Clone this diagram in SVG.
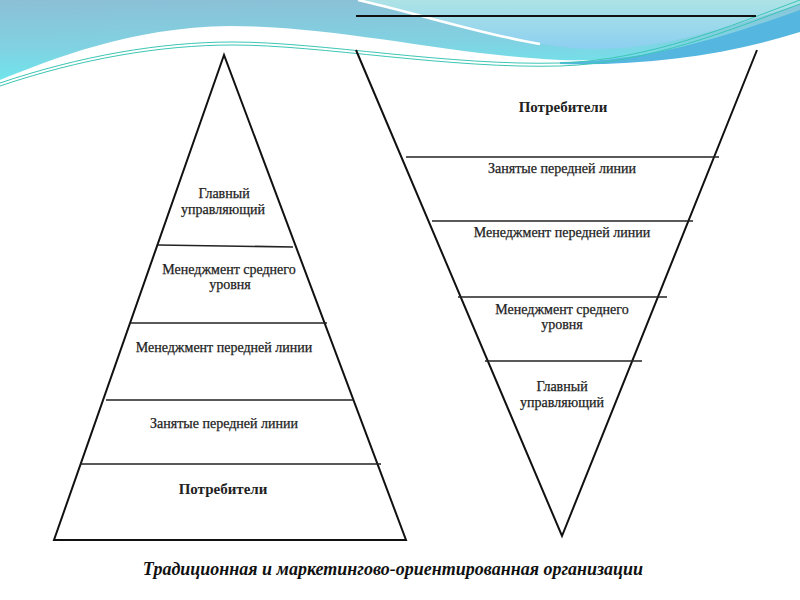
<svg xmlns="http://www.w3.org/2000/svg" width="800" height="600" viewBox="0 0 800 600">
<defs>
<linearGradient id="gMain" x1="0" y1="0" x2="0.15" y2="1">
<stop offset="0" stop-color="#8cbfd6"/>
<stop offset="0.6" stop-color="#80d2e2"/>
<stop offset="1" stop-color="#6ee6ec"/>
</linearGradient>
<linearGradient id="gLight" x1="0" y1="0" x2="0" y2="1">
<stop offset="0" stop-color="#ade3e6"/>
<stop offset="1" stop-color="#8ccff0"/>
</linearGradient>
<style>
.edge{fill:none;stroke:#111;stroke-width:2;stroke-linejoin:miter}
.div{fill:none;stroke:#222;stroke-width:1.6}
.lbl{font-family:"Liberation Serif","Times New Roman",serif;font-size:14px;fill:#222;stroke:#222;stroke-width:0.25;text-anchor:middle}
.big{font-family:"Liberation Serif","Times New Roman",serif;font-size:15px;font-weight:bold;fill:#222;text-anchor:middle}
.cap{font-family:"Liberation Serif","Times New Roman",serif;font-size:18px;font-weight:bold;font-style:italic;fill:#111;text-anchor:middle}
.teal{fill:none;stroke:#3cc6b4;stroke-width:1}
</style>
</defs>
<rect width="800" height="600" fill="#ffffff"/>
<g id="background">
<path d="M0,0 H800 V30 C720,50 640,62 560,60 C450,55 340,26 230,26 C130,27 50,60 0,80 Z" fill="url(#gMain)"/>
<path d="M362,0 C420,14 500,40 570,48 C650,54 720,30 800,4 V0 Z" fill="url(#gLight)"/>
<path d="M358,0 C420,14 480,34 540,44" fill="none" stroke="#ffffff" stroke-width="2.5"/>
<path d="M560,62 C650,62 730,35 800,10 V32 C730,54 650,66 560,64 Z" fill="#55b6e0"/>
<path class="teal" d="M0,83 C80,56 160,42 233,42 C320,42 450,66 560,63 C650,60 730,26 800,0"/>
<path class="teal" d="M0,86 C80,59 160,45 233,45 C320,45 450,69 560,66 C650,63 730,30 800,4" stroke="#7fdccf"/>
</g>
<g id="connectors">
<path class="edge" d="M224,55 L54,540 L406,540 Z"/>
<line class="div" x1="158" y1="245" x2="293" y2="247"/>
<line class="div" x1="131" y1="323" x2="327" y2="323"/>
<line class="div" x1="106" y1="400" x2="354" y2="400"/>
<line class="div" x1="80" y1="464" x2="381" y2="464"/>
<line x1="356" y1="16" x2="756" y2="16" stroke="#111" stroke-width="2.2"/>
<path class="edge" d="M356,50 L562,536 L757,50"/>
<line class="div" x1="406" y1="157" x2="719" y2="157"/>
<line class="div" x1="432" y1="221" x2="693" y2="221"/>
<line class="div" x1="458" y1="297" x2="667" y2="297"/>
<line class="div" x1="485" y1="361" x2="642" y2="361"/>
</g>
<g id="left-1"><text class="lbl" x="224" y="198">Главный</text><text class="lbl" x="223" y="214">управляющий</text></g>
<g id="left-2"><text class="lbl" x="229" y="274">Менеджмент среднего</text><text class="lbl" x="230" y="289">уровня</text></g>
<g id="left-3"><text class="lbl" x="224" y="352">Менеджмент передней линии</text></g>
<g id="left-4"><text class="lbl" x="224" y="428">Занятые передней линии</text></g>
<g id="left-5"><text class="big" x="223" y="494">Потребители</text></g>
<g id="right-1"><text class="big" x="563" y="112">Потребители</text></g>
<g id="right-2"><text class="lbl" x="562" y="173">Занятые передней линии</text></g>
<g id="right-3"><text class="lbl" x="562" y="237">Менеджмент передней линии</text></g>
<g id="right-4"><text class="lbl" x="562" y="314">Менеджмент среднего</text><text class="lbl" x="562" y="329">уровня</text></g>
<g id="right-5"><text class="lbl" x="562" y="391">Главный</text><text class="lbl" x="562" y="407">управляющий</text></g>
<g id="caption"><text class="cap" x="393" y="575">Традиционная и маркетингово-ориентированная организации</text></g>
</svg>
